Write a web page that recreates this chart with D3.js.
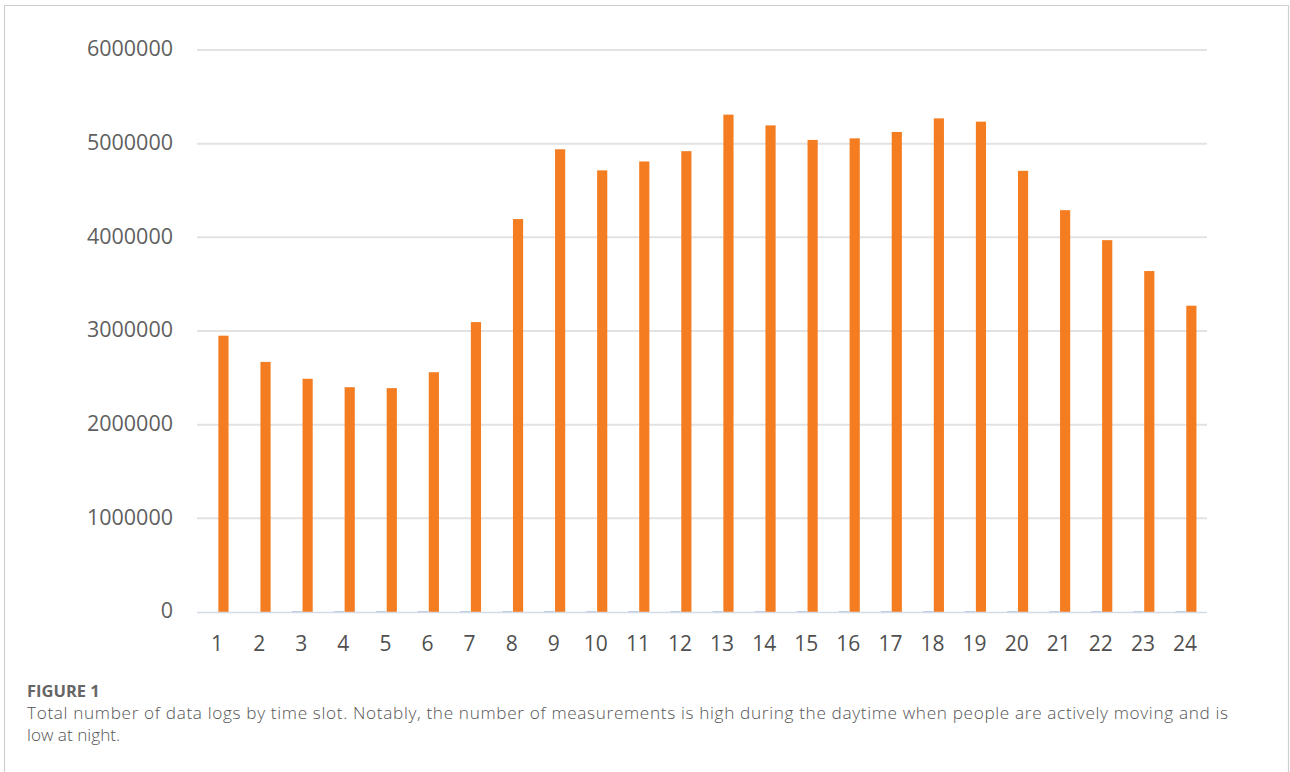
<!DOCTYPE html>
<html>
<head>
<meta charset="utf-8">
<script src="https://cdn.jsdelivr.net/npm/d3@7"></script>
<style>
  html, body { margin: 0; padding: 0; background: #fff; }
  svg { display: block; }
</style>
</head>
<body>
<svg id="chart" width="1290" height="772"></svg>
<script>
const categories = ["1","2","3","4","5","6","7","8","9","10","11","12","13","14","15","16","17","18","19","20","21","22","23","24"];
const seriesNames = ["minor", "logs"];
const minorValues = [0, 0, 9000, 9000, 9000, 9000, 9000, 9000, 9000, 9000, 9000, 9000, 9000, 9000, 9000, 9000, 9000, 9000, 9000, 9000, 9000, 9000, 9000, 9000];
const logValues = [2950000, 2670000, 2490000, 2400000, 2390000, 2560000, 3095000, 4195000, 4940000, 4715000, 4810000, 4920000, 5310000, 5195000, 5040000, 5057000, 5125000, 5270000, 5235000, 4710000, 4290000, 3970000, 3640000, 3270000];
const yTicks = [0, 1000000, 2000000, 3000000, 4000000, 5000000, 6000000];
const captionTitle = "FIGURE 1";
const captionLines = [
  "Total number of data logs by time slot. Notably, the number of measurements is high during the daytime when people are actively moving and is",
  "low at night."
];

const svg = d3.select("#chart");
const W = 1290, H = 772;

// outer frame
svg.append("path")
  .attr("d", `M4.5,${H} V5.5 H1288.5 V${H}`)
  .attr("fill", "none").attr("stroke", "#cfcfcf").attr("stroke-width", 1.2);

const plot = { left: 197, right: 1207, top: 50, bottom: 612 };

const x = d3.scaleBand().domain(categories).range([plot.left, plot.right]).padding(0);
const xSub = d3.scaleBand().domain(seriesNames)
  .range([x.bandwidth() / 2 - 10.5, x.bandwidth() / 2 + 10.5]).paddingInner(0.06);
const y = d3.scaleLinear().domain([0, 6000000]).range([plot.bottom, plot.top]);

// gridlines
svg.append("g").selectAll("line").data(yTicks.filter(d => d > 0)).join("line")
  .attr("x1", plot.left).attr("x2", plot.right)
  .attr("y1", d => y(d)).attr("y2", d => y(d))
  .attr("stroke", "#e2e2e2").attr("stroke-width", 2);

// y axis labels
const yAxis = d3.axisLeft(y).tickValues(yTicks).tickFormat(d3.format("d")).tickSize(0).tickPadding(0);
const gy = svg.append("g").attr("transform", `translate(173,-1)`).call(yAxis);
gy.select(".domain").remove();
gy.selectAll("text")
  .attr("font-family", "'Open Sans', sans-serif")
  .attr("font-size", 21.5)
  .attr("fill", "#5f5f5f");

// bars
const rows = categories.map((c, i) => ({ c, minor: minorValues[i], logs: logValues[i] }));
const colors = { minor: "#aec2e2", logs: "#f47d22" };
const groups = svg.append("g").selectAll("g").data(rows).join("g")
  .attr("transform", d => `translate(${x(d.c)},0)`);
groups.selectAll("rect").data(d => seriesNames.map(s => ({ s, v: d[s] }))).join("rect")
  .attr("x", d => xSub(d.s))
  .attr("width", xSub.bandwidth())
  .attr("y", d => y(d.v))
  .attr("height", d => Math.max(0, y(0) - y(d.v)))
  .attr("fill", d => colors[d.s]);

// x axis line
svg.append("line")
  .attr("x1", plot.left).attr("x2", plot.right)
  .attr("y1", y(0) + 0.5).attr("y2", y(0) + 0.5)
  .attr("stroke", "#d3dbe8").attr("stroke-width", 1.6);

// x axis labels
const xAxis = d3.axisBottom(x).tickSize(0).tickPadding(0);
const gx = svg.append("g").attr("transform", `translate(-1,${y(0)})`).call(xAxis);
gx.select(".domain").remove();
gx.selectAll("text")
  .attr("y", 39).attr("dy", 0)
  .attr("font-family", "'Open Sans', sans-serif")
  .attr("font-size", 21)
  .attr("fill", "#505050");

// caption
svg.append("text")
  .attr("x", 27).attr("y", 697)
  .attr("font-family", "'Open Sans', sans-serif")
  .attr("font-weight", 700)
  .attr("font-size", 16.5)
  .attr("fill", "#666")
  .text(captionTitle);

svg.append("g").selectAll("text").data(captionLines).join("text")
  .attr("x", 27).attr("y", (d, i) => 719 + i * 22)
  .attr("font-family", "'Open Sans', sans-serif")
  .attr("font-weight", 300)
  .attr("font-size", 17.2)
  .attr("fill", "#555")
  .attr("textLength", (d, i) => i === 0 ? 1201 : null)
  .attr("lengthAdjust", "spacing")
  .text(d => d);
</script>
</body>
</html>
